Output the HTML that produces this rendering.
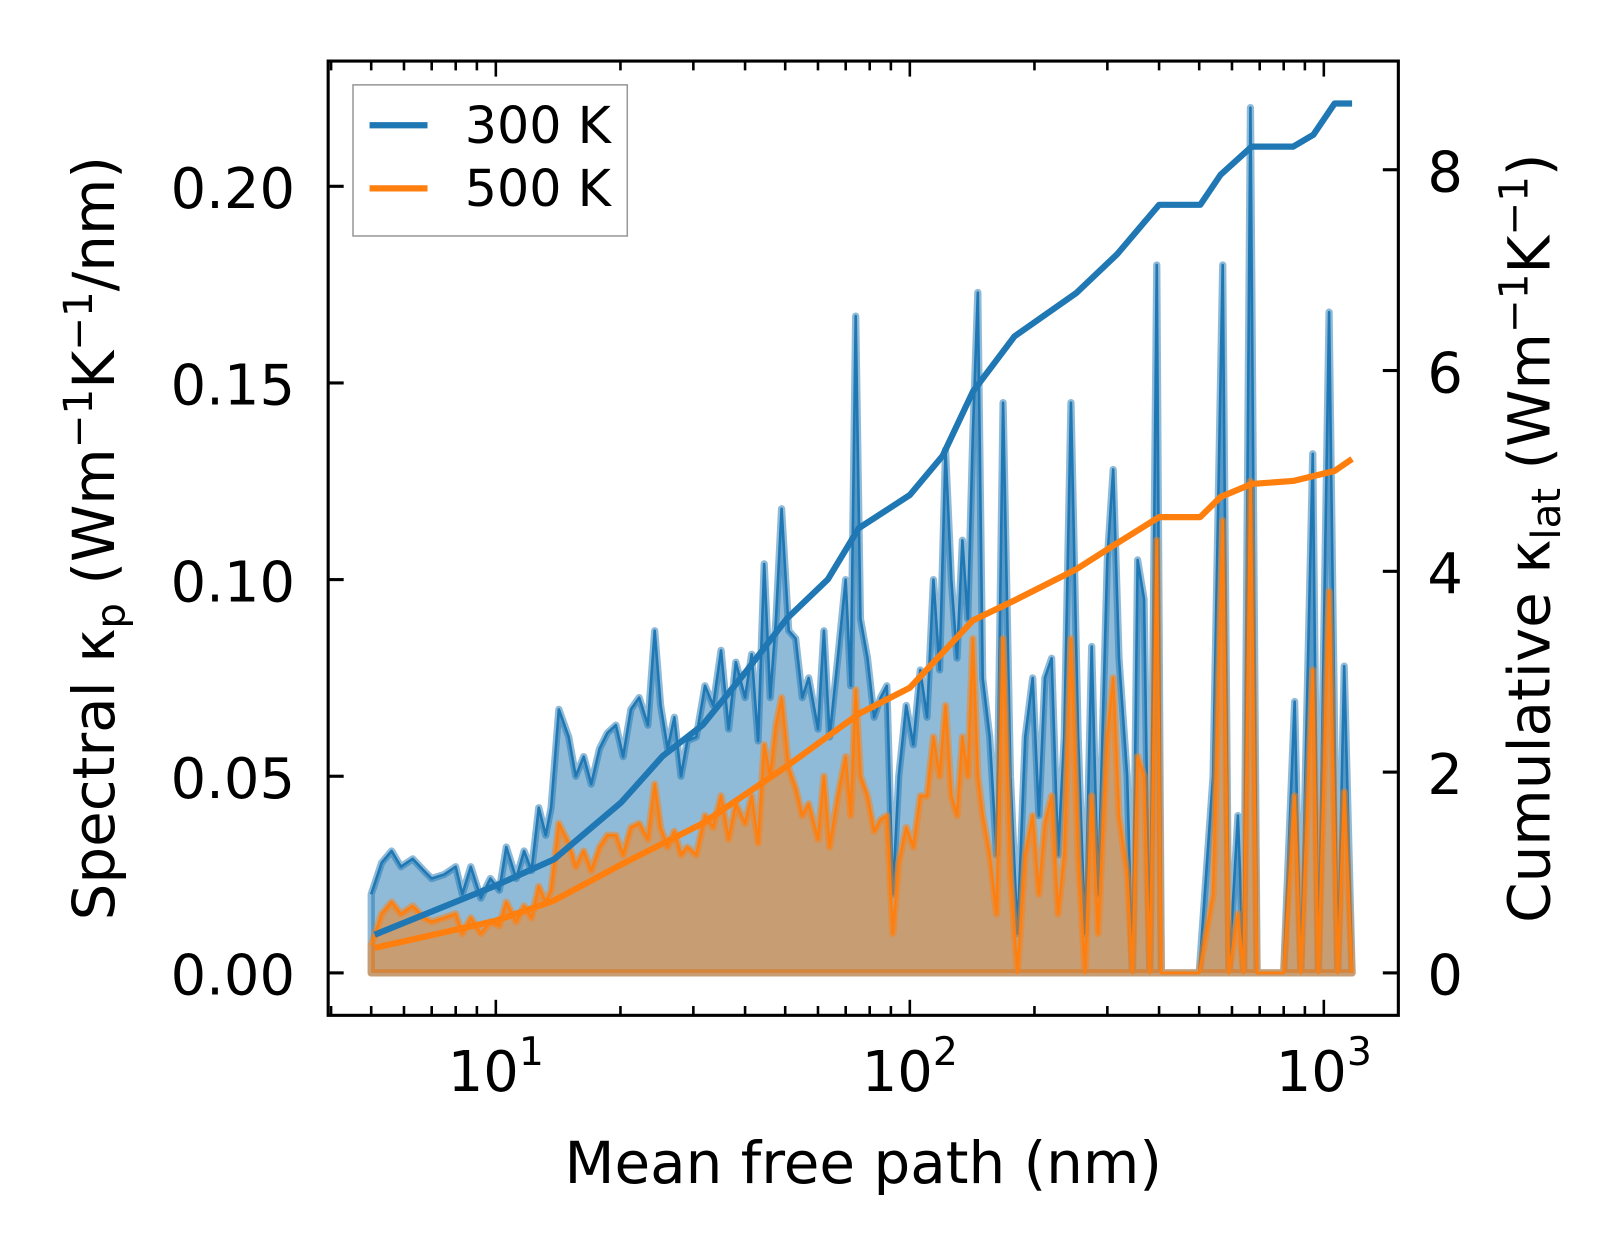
<!DOCTYPE html>
<html><head><meta charset="utf-8"><style>
html,body{margin:0;padding:0;background:#fff}
svg{display:block;font-family:"DejaVu Sans","Liberation Sans",sans-serif}
</style></head><body>
<svg id="chart" width="1623" height="1254" viewBox="0 0 1568 1211.6" xmlns="http://www.w3.org/2000/svg">
<g id="plot"></g>
<g id="axes"></g>
<text x="834" y="1143" font-size="56" text-anchor="middle">Mean free path (nm)</text>
<text transform="translate(110,520) rotate(-90)" font-size="56" text-anchor="middle">Spectral κ<tspan font-size="39" dy="10">p</tspan><tspan dy="-10"> (Wm</tspan><tspan font-size="39" dy="-21">−1</tspan><tspan dy="21">K</tspan><tspan font-size="39" dy="-21">−1</tspan><tspan dy="21">/nm)</tspan></text>
<text transform="translate(1497,520) rotate(-90)" font-size="56" text-anchor="middle">Cumulative κ<tspan font-size="39" dy="10">lat</tspan><tspan dy="-10"> (Wm</tspan><tspan font-size="39" dy="-21">−1</tspan><tspan dy="21">K</tspan><tspan font-size="39" dy="-21">−1</tspan><tspan dy="21">)</tspan></text>
<g>
<rect x="341" y="82" width="265" height="146" fill="#fff" stroke="#999" stroke-width="1.5"/>
<line x1="357" y1="121" x2="413" y2="121" stroke="#1f77b4" stroke-width="6"/>
<text x="449" y="138" font-size="49">300 K</text>
<line x1="357" y1="182" x2="413" y2="182" stroke="#ff7f0e" stroke-width="6"/>
<text x="449" y="199" font-size="49">500 K</text>
</g>
</svg>
<script>
const mfp = [5.0,5.3,5.6,5.9,6.3,6.7,7.0,7.5,8.0,8.3,8.7,9.2,9.7,10.2,10.6,11.2,11.7,12.2,12.7,13.2,13.6,14.2,15.0,15.6,16.3,17.0,17.8,18.6,19.5,20.3,21.2,22.2,23.3,24.2,25.0,26.0,27.0,28.0,29.0,30.5,32.0,33.5,35.0,36.5,38.0,40.0,41.5,43.0,44.5,46.0,47.5,49.0,51.0,53.0,55.0,57.0,60.0,62.0,64.0,67.0,70.0,72.0,74.0,76.0,79.0,82.0,85.0,88.0,91.0,94.0,98.0,102,106,110,114,118,122,126,130,134,138,142,146,150,156,162,168,175,182,190,198,205,212,220,228,236,245,255,265,275,285,300,310,320,335,345,355,368,380,395,405,500,540,570,590,620,640,665,690,800,850,880,940,970,1030,1080,1120,1170];
const spec300 = [0.020,0.028,0.031,0.027,0.029,0.026,0.024,0.025,0.027,0.020,0.027,0.019,0.024,0.021,0.032,0.024,0.031,0.026,0.042,0.035,0.042,0.067,0.060,0.050,0.055,0.048,0.057,0.061,0.063,0.055,0.067,0.070,0.063,0.087,0.068,0.057,0.065,0.050,0.059,0.060,0.073,0.068,0.082,0.062,0.079,0.070,0.081,0.059,0.104,0.070,0.090,0.118,0.087,0.085,0.070,0.075,0.062,0.087,0.060,0.080,0.100,0.073,0.167,0.090,0.080,0.065,0.070,0.073,0.020,0.050,0.068,0.058,0.077,0.065,0.100,0.077,0.133,0.100,0.080,0.110,0.090,0.137,0.173,0.075,0.060,0.030,0.145,0.050,0.010,0.060,0.075,0.040,0.075,0.080,0.030,0.060,0.145,0.060,0.010,0.083,0.020,0.105,0.128,0.080,0.050,0.000,0.105,0.095,0.000,0.180,0.000,0.000,0.050,0.180,0.000,0.040,0.000,0.220,0.000,0.000,0.069,0.000,0.132,0.000,0.168,0.000,0.078,0.000];
const spec500 = [0.007,0.015,0.018,0.015,0.017,0.014,0.013,0.014,0.015,0.010,0.014,0.010,0.013,0.012,0.018,0.013,0.017,0.014,0.022,0.018,0.021,0.038,0.033,0.027,0.031,0.026,0.032,0.035,0.035,0.030,0.037,0.038,0.034,0.048,0.037,0.032,0.036,0.030,0.032,0.030,0.040,0.037,0.045,0.034,0.043,0.038,0.045,0.033,0.058,0.050,0.063,0.070,0.052,0.047,0.040,0.043,0.034,0.050,0.032,0.045,0.055,0.040,0.072,0.050,0.045,0.036,0.039,0.040,0.010,0.028,0.037,0.032,0.045,0.045,0.060,0.050,0.068,0.045,0.040,0.060,0.050,0.085,0.050,0.040,0.030,0.015,0.085,0.025,0.000,0.030,0.040,0.020,0.038,0.045,0.015,0.030,0.085,0.030,0.000,0.045,0.010,0.060,0.075,0.040,0.025,0.000,0.055,0.050,0.000,0.110,0.000,0.000,0.020,0.115,0.000,0.015,0.000,0.125,0.000,0.000,0.045,0.000,0.077,0.000,0.097,0.000,0.046,0.000];
const cumMfp300 = [5.1,10,13.8,20.1,25.3,31.6,40,50.5,63.4,75.3,100,120,142,179,252,317,400,503,563,669,843,944,1062,1170];
const cum300 = [0.38,0.87,1.13,1.70,2.16,2.47,2.99,3.53,3.92,4.43,4.76,5.15,5.79,6.34,6.77,7.16,7.65,7.65,7.95,8.23,8.23,8.35,8.66,8.66];
const cumMfp500 = [5.1,10,13.8,20.1,31.6,50.5,75.3,100,142,179,252,317,400,503,563,669,843,1062,1170];
const cum500 = [0.25,0.52,0.72,1.08,1.49,2.06,2.58,2.84,3.51,3.71,4.02,4.28,4.54,4.54,4.74,4.87,4.90,5.00,5.12];
const leftTicks = [0,0.05,0.10,0.15,0.20];
const leftTickLabels = ["0.00","0.05","0.10","0.15","0.20"];
const rightTicks = [0,2,4,6,8];
const xMajor = [10,100,1000];
const xMajorExp = ["1","2","3"];

const L=317,R=1351,T=59,B=981;
const X = v => 479 + (Math.log10(v)-1)*400;
const YL = v => 940 - v*3800;
const YR = v => 940 - v*97;
const NS="http://www.w3.org/2000/svg";
const plot=document.getElementById('plot'), axes=document.getElementById('axes');
function mk(tag,attrs,parent){const e=document.createElementNS(NS,tag);for(const k in attrs)e.setAttribute(k,attrs[k]);parent.appendChild(e);return e;}

function area(xs,ys,color,name){
  let d='M'+X(xs[0])+','+YL(0);
  xs.forEach((x,i)=>d+=' L'+X(x).toFixed(1)+','+YL(ys[i]).toFixed(1));
  d+=' L'+X(xs[xs.length-1])+','+YL(0)+' Z';
  const a=mk('path',{d:d,fill:color,'fill-opacity':0.5,stroke:color,'stroke-opacity':0.5,'stroke-width':7,'stroke-linejoin':'round'},plot);
  
  
  const p=xs.map((x,i)=>(i?'L':'M')+X(x).toFixed(1)+','+YL(ys[i]).toFixed(1)).join(' ');
  const l=mk('path',{d:p,fill:'none',stroke:color,'stroke-width':2.5,'stroke-linejoin':'round'},plot);
  
  
}
area(mfp,spec300,'#1f77b4','spectral-300k');
area(mfp,spec500,'#ff7f0e','spectral-500k');
function cum(xs,ys,color,name){
  const p=xs.map((x,i)=>(i?'L':'M')+X(x).toFixed(1)+','+YR(ys[i]).toFixed(1)).join(' ');
  const l=mk('path',{d:p,fill:'none',stroke:color,'stroke-width':6,'stroke-linejoin':'round'},plot);
  
  
}
cum(cumMfp300,cum300,'#1f77b4','cumulative-300k');
cum(cumMfp500,cum500,'#ff7f0e','cumulative-500k');

const frame=mk('rect',{x:L,y:T,width:R-L,height:B-T,fill:'none',stroke:'#000','stroke-width':3},axes);


leftTicks.forEach((v,i)=>{
  const y=YL(v);
  mk('line',{x1:L,x2:L+15,y1:y,y2:y,stroke:'#000','stroke-width':3},axes);
  const t=mk('text',{x:285,y:y+21,'font-size':54,'text-anchor':'end'},axes);
  t.textContent=leftTickLabels[i];
  
  
});
rightTicks.forEach(v=>{
  const y=YR(v);
  mk('line',{x1:R-15,x2:R,y1:y,y2:y,stroke:'#000','stroke-width':3},axes);
  const t=mk('text',{x:R+28,y:y+21,'font-size':54},axes);
  t.textContent=String(v);
  
  
});
for(let dec=1;dec<=1000;dec*=10){
  for(let m=1;m<10;m++){
    const v=dec*m, x=X(v);
    if(x<L||x>R) continue;
    const major=(m===1);
    const len=major?15:9;
    mk('line',{x1:x,x2:x,y1:B,y2:B-len,stroke:'#000','stroke-width':2.5},axes);
    mk('line',{x1:x,x2:x,y1:T,y2:T+len,stroke:'#000','stroke-width':2.5},axes);
  }
}
xMajor.forEach((v,i)=>{
  const x=X(v);
  const t=mk('text',{x:x,y:1054,'font-size':54,'text-anchor':'middle'},axes);
  t.textContent='10';
  const s=mk('tspan',{'font-size':38,dy:-25},t);
  s.textContent=xMajorExp[i];
  
  
});
</script>
</body></html>
